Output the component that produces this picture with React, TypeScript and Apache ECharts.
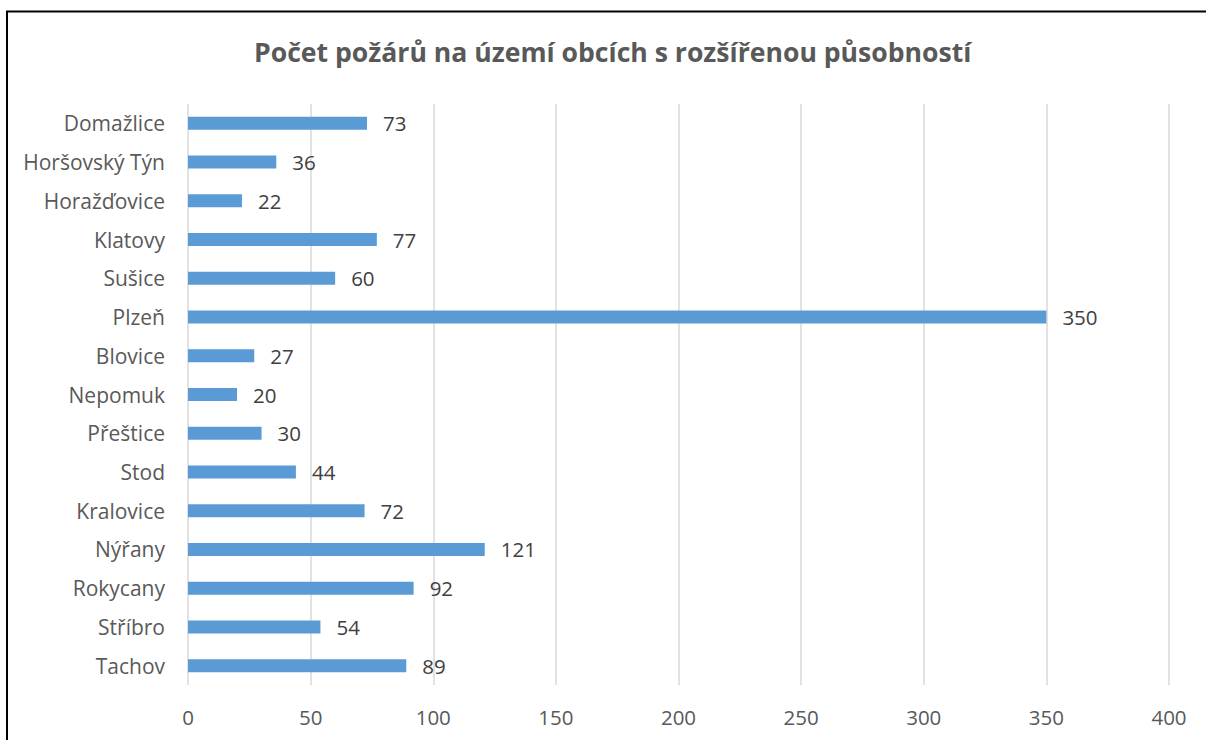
import React, { useEffect, useRef } from "react";
import * as echarts from "echarts";

const titleText = "Počet požárů na území obcích s rozšířenou působností";
const categories = [
  "Domažlice",
  "Horšovský Týn",
  "Horažďovice",
  "Klatovy",
  "Sušice",
  "Plzeň",
  "Blovice",
  "Nepomuk",
  "Přeštice",
  "Stod",
  "Kralovice",
  "Nýřany",
  "Rokycany",
  "Stříbro",
  "Tachov",
];
const values = [73, 36, 22, 77, 60, 350, 27, 20, 30, 44, 72, 121, 92, 54, 89];
const axisMin = 0;
const axisMax = 400;
const axisStep = 50;

const FONT = "'Open Sans', sans-serif";

export default function App() {
  const ref = useRef<HTMLDivElement>(null);
  useEffect(() => {
    if (!ref.current) return;
    const chart = echarts.init(ref.current, null, { renderer: "svg" });
    chart.setOption({
      animation: false,
      backgroundColor: "#ffffff",
      title: {
        text: titleText,
        left: 249,
        top: 33,
        textStyle: {
          fontFamily: FONT,
          fontSize: 26.6,
          fontWeight: "bold",
          color: "#595959",
        },
      },
      graphic: [
        {
          type: "polyline",
          shape: { points: [[7, 740], [7, 11.5], [1206, 11.5]] },
          style: { stroke: "#000000", lineWidth: 2, fill: "none" },
          silent: true,
        },
      ],
      grid: { left: 188, right: 37, top: 104, bottom: 55, containLabel: false },
      xAxis: {
        type: "value",
        min: axisMin,
        max: axisMax,
        interval: axisStep,
        axisLine: { show: false },
        axisTick: { show: false },
        splitLine: { show: true, lineStyle: { color: "#d9d9d9", width: 1.5 } },
        axisLabel: {
          fontFamily: FONT,
          fontSize: 20.5,
          color: "#595959",
          margin: 21,
        },
      },
      yAxis: {
        type: "category",
        inverse: true,
        data: categories,
        axisLine: { show: false },
        axisTick: { show: false },
        axisLabel: {
          fontFamily: FONT,
          fontSize: 21,
          color: "#595959",
          margin: 23,
        },
      },
      series: [
        {
          type: "bar",
          data: values,
          barWidth: 13,
          itemStyle: { color: "#5b9bd5" },
          label: {
            show: true,
            position: "right",
            distance: 16,
            fontFamily: FONT,
            fontSize: 20.5,
            color: "#404040",
          },
        },
      ],
    });
    return () => chart.dispose();
  }, []);
  return (
    <div
      ref={ref}
      style={{ position: "fixed", left: 0, top: 0, width: 1206, height: 740 }}
    />
  );
}
